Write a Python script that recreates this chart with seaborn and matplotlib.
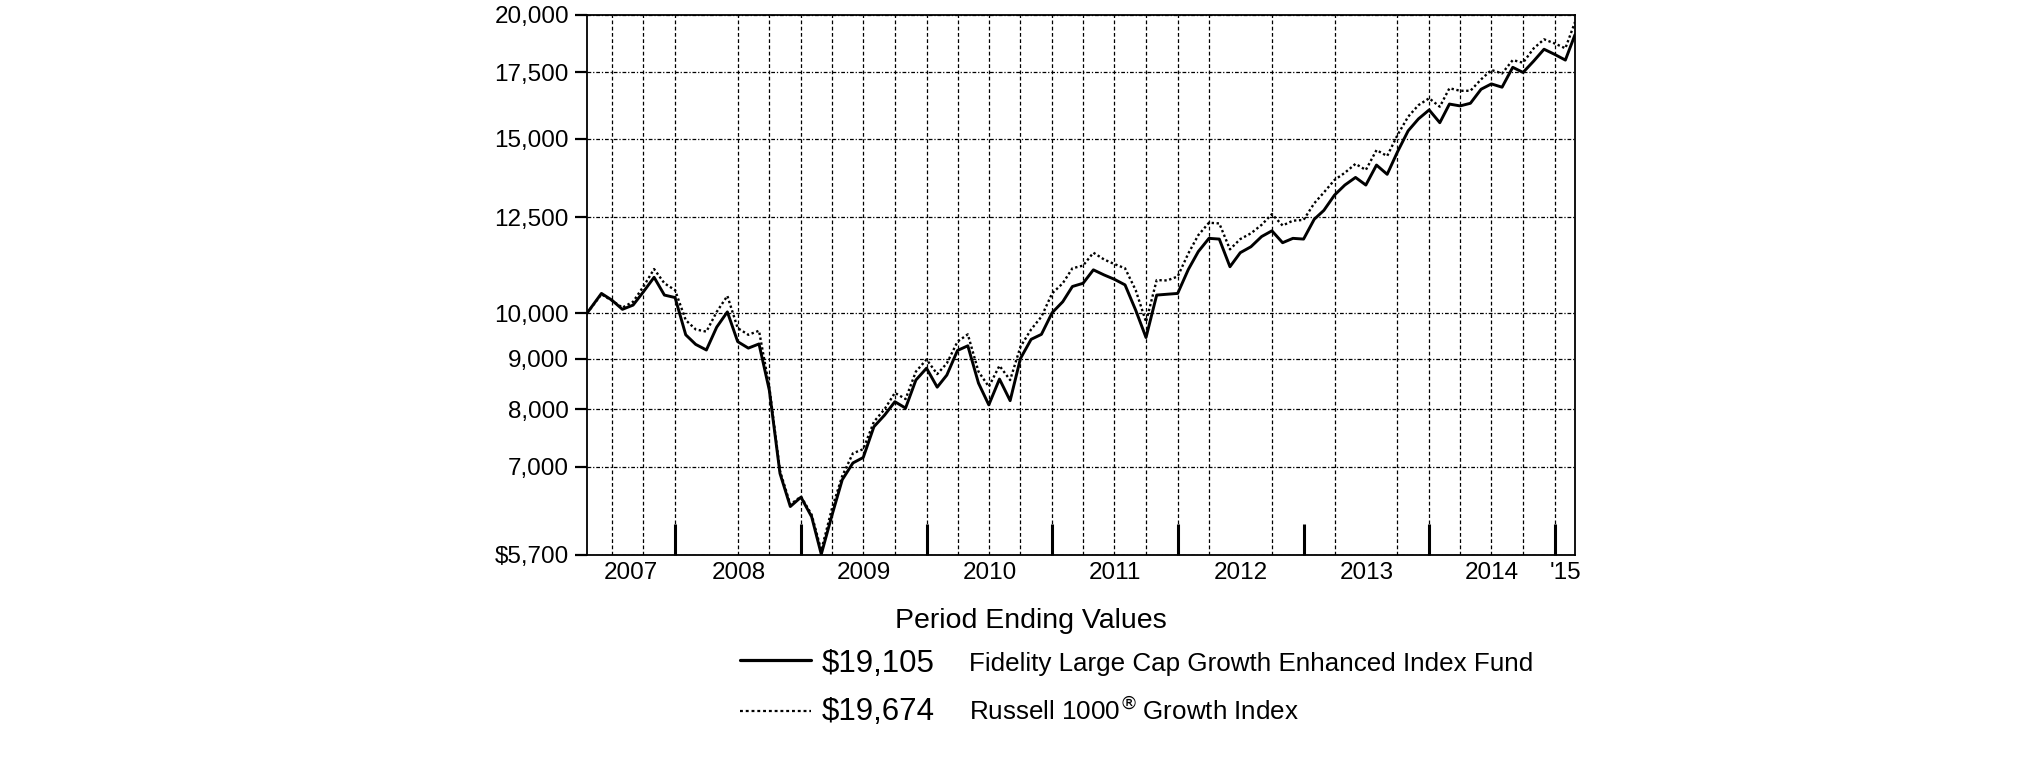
import numpy as np
import pandas as pd
import matplotlib
matplotlib.use('Agg')
import matplotlib.pyplot as plt
import matplotlib.dates as mdates
from matplotlib.ticker import FixedLocator, FixedFormatter, NullLocator, NullFormatter
from matplotlib.lines import Line2D
import seaborn as sns

# data ---------------------------------------------------------------
start_date = '2007-04-19'
first_month_end = '2007-05-31'

fund = [10000, 10470, 10310, 10090, 10190, 10510, 10870, 10430, 10370,
        9510, 9300, 9180, 9680, 10030, 9360, 9220, 9310, 8360, 6890, 6380, 6520,
        6230, 5710, 6250, 6790, 7060, 7150, 7680, 7890, 8140, 8020, 8560, 8800,
        8420, 8660, 9170, 9270, 8500, 8080, 8580, 8160, 9000, 9410, 9520, 10010,
        10270, 10640, 10720, 11060, 10930, 10820, 10680, 10070, 9450, 10430, 10450, 10470,
        11070, 11540, 11900, 11880, 11140, 11510, 11670, 11950, 12110, 11780, 11900, 11880,
        12440, 12700, 13160, 13470, 13710, 13470, 14110, 13810, 14550, 15280, 15710, 16040,
        15570, 16260, 16190, 16290, 16830, 17040, 16910, 17710, 17500, 17970, 18470, 18250,
        18010, 19105]

index = [10000, 10450, 10300, 10130, 10270, 10640, 11080, 10720, 10550,
         9840, 9630, 9580, 10030, 10410, 9660, 9510, 9600, 8420, 6930, 6410, 6530,
         6260, 5760, 6350, 6850, 7220, 7290, 7770, 8000, 8310, 8190, 8730, 8980,
         8680, 8900, 9360, 9520, 8730, 8430, 8850, 8560, 9250, 9630, 9920, 10470,
         10720, 11100, 11170, 11510, 11330, 11210, 11100, 10550, 9800, 10800, 10790, 10890,
         11490, 11990, 12340, 12320, 11600, 11880, 12040, 12280, 12590, 12260, 12400, 12420,
         12910, 13240, 13630, 13860, 14150, 13950, 14610, 14410, 15130, 15790, 16220, 16480,
         16160, 16870, 16770, 16770, 17220, 17600, 17460, 18010, 17900, 18510, 18900, 18720,
         18510, 19674]

y_ticks = [5700, 7000, 8000, 9000, 10000, 12500, 15000, 17500, 20000]
y_labels = ['$5,700', '7,000', '8,000', '9,000', '10,000', '12,500', '15,000', '17,500', '20,000']
year_labels = ['2007', '2008', '2009', '2010', '2011', '2012', '2013', '2014', "'15"]
# quarter gridlines that are not drawn in the original
skipped_grid = ['2008-03-31', '2012-06-30', '2012-12-31', '2013-06-30']

legend_title = 'Period Ending Values'
legend_values = ['$19,105', '$19,674']
legend_names = ['Fidelity Large Cap Growth Enhanced Index Fund',
                'Russell 1000$^{\\circledR}\\,$Growth Index']

# frame ----------------------------------------------------------------
dates = pd.DatetimeIndex([pd.Timestamp(start_date)]).append(
    pd.date_range(first_month_end, periods=len(fund) - 1, freq=pd.offsets.MonthEnd()))
df = pd.DataFrame({'date': dates, 'fund': fund, 'index': index})

sns.set_style('white')
plt.rcParams['font.family'] = ['Liberation Sans', 'DejaVu Sans']
plt.rcParams['text.color'] = 'black'
plt.rcParams['xtick.color'] = 'black'
plt.rcParams['ytick.color'] = 'black'
plt.rcParams['axes.labelcolor'] = 'black'

W, H = 2026, 763
fig = plt.figure(figsize=(W / 100, H / 100), dpi=100)
ax = fig.add_axes([587 / W, 1 - 555 / H, (1575 - 587) / W, (555 - 15) / H])

sns.lineplot(data=df, x='date', y='fund', ax=ax, color='black', lw=2.1, zorder=4)
sns.lineplot(data=df, x='date', y='index', ax=ax, color='black', lw=1.7,
             linestyle=(0, (1, 1.1)), zorder=3)

ax.set_yscale('log')
ax.set_ylim(5700, 20000)
ax.set_xlim(dates[0], dates[-1])
ax.set_xlabel('')
ax.set_ylabel('')

ax.yaxis.set_major_locator(FixedLocator(y_ticks))
ax.yaxis.set_major_formatter(FixedFormatter(y_labels))
ax.yaxis.set_minor_locator(NullLocator())
ax.tick_params(axis='y', which='major', direction='out', length=8.5, width=1.6,
               pad=4.5, labelsize=17.5, left=True)
ax.yaxis.grid(True, which='major', color='black', lw=0.9, linestyle=(0, (3, 1.5, 1, 1.5)))

# year boundaries as long inner ticks, labels centred in each year
year_starts = pd.date_range('2008-01-01', '2015-01-01', freq='YS')
bounds = [dates[0]] + list(year_starts) + [dates[-1]]
mids = [a + (b - a) / 2 for a, b in zip(bounds[:-1], bounds[1:])]
ax.xaxis.set_major_locator(FixedLocator(mdates.date2num(year_starts)))
ax.xaxis.set_major_formatter(NullFormatter())
ax.xaxis.set_minor_locator(FixedLocator(mdates.date2num(mids)))
ax.xaxis.set_minor_formatter(FixedFormatter(year_labels))
ax.tick_params(axis='x', which='major', direction='in', length=22, width=2.2, bottom=True)
ax.tick_params(axis='x', which='minor', length=0, pad=5, labelsize=17.5, bottom=True)

quarters = pd.date_range('2007-06-30', '2014-12-31', freq=pd.offsets.QuarterEnd())
for q in quarters:
    if q.strftime('%Y-%m-%d') in skipped_grid:
        continue
    ax.axvline(q, color='black', lw=0.9, linestyle=(0, (3, 2)), zorder=1)

for s in ax.spines.values():
    s.set_visible(True)
    s.set_color('black')
    s.set_linewidth(1.3)

# legend block ---------------------------------------------------------
fig.text(1031 / W, 1 - 628 / H, legend_title, ha='center', va='baseline', fontsize=20.5)
row_y = [671.5, 720.5]
line_y = [660, 711]
fig.add_artist(Line2D([740 / W, 811 / W], [1 - line_y[0] / H] * 2, color='black', lw=2.3))
fig.add_artist(Line2D([740 / W, 811 / W], [1 - line_y[1] / H] * 2, color='black', lw=1.6,
                      linestyle=(0, (1.3, 1.3))))
for yy, val, name in zip(row_y, legend_values, legend_names):
    fig.text(822 / W, 1 - yy / H, val, ha='left', va='baseline', fontsize=22.5)
    fig.text(969 / W, 1 - yy / H, name, ha='left', va='baseline', fontsize=18.7)

fig.savefig('out.png', dpi=100)
